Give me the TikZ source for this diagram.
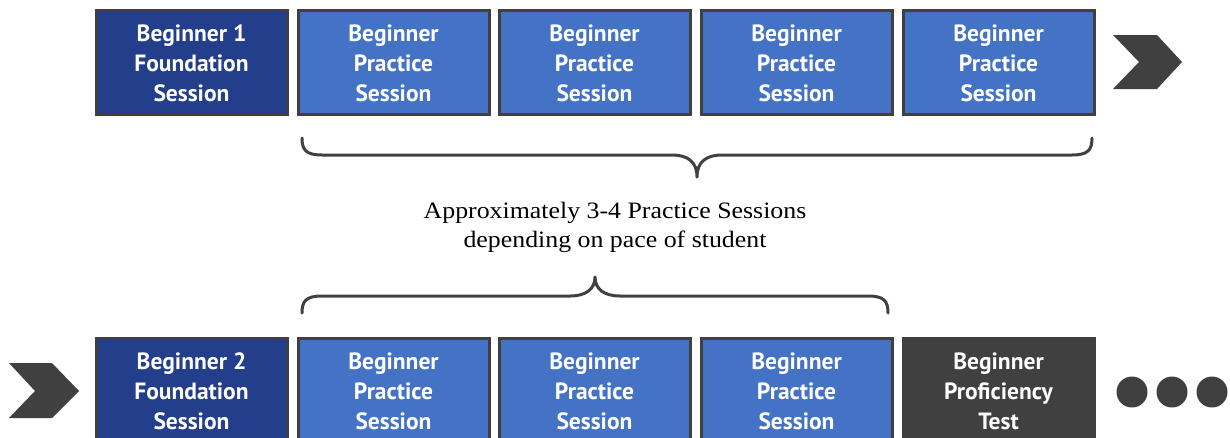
\documentclass[tikz,border=0pt]{standalone}
\usepackage{fontspec}
\setmainfont{Liberation Serif}
\newfontfamily\boxfont{PT Sans}
\usetikzlibrary{calc}
\definecolor{dkblue}{HTML}{233E8B}
\definecolor{ltblue}{HTML}{4472C4}
\definecolor{dkgray}{HTML}{404040}
\newcommand{\wideline}[1]{\scalebox{1.1}[1]{#1}}
\begin{document}
\begin{tikzpicture}[x=1pt,y=-1pt,
  sess/.style={draw=dkgray,line width=3pt,minimum width=191pt,minimum height=104pt,inner sep=0pt},
  found/.style={sess,fill=dkblue},
  prac/.style={sess,fill=ltblue},
  test/.style={sess,fill=dkgray},
  boxtext/.style={text=white,font=\boxfont\bfseries\fontsize{23.5}{30}\selectfont,align=center,inner sep=0pt},
  bracel/.style={draw=dkgray,line width=3pt,line cap=round,line join=round},
  note/.style={font=\fontsize{23.5}{29}\selectfont,align=center,text=black}]
\useasboundingbox (0,0) rectangle (1230,437);
\clip (0,0) rectangle (1230,437);
% top row
\node[found] (a1) at (191.5,62) {};
\node[prac] (a2) at (393.5,62) {};
\node[prac] (a3) at (594.5,62) {};
\node[prac] (a4) at (796.5,62) {};
\node[prac] (a5) at (998.5,62) {};
\foreach \n/\t in {a1/{Beginner 1\\Foundation\\Session},a2/{Beginner\\Practice\\Session},a3/{Beginner\\Practice\\Session},a4/{Beginner\\Practice\\Session},a5/{Beginner\\Practice\\Session}}
  \node[boxtext] (\n t) at ($(\n)+(0,1)$) {\t};
% chevron top
\fill[dkgray] (1113,35) -- (1157,35) -- (1182,62) -- (1157,89) -- (1113,89) -- (1139,62) -- cycle;
% top brace
\coordinate (tb1) at (302,138);
\coordinate (tb2) at (1092,138);
\coordinate (tbt) at (697,177);
\draw[bracel] (tb1) .. controls (302,150) and (306,155) .. (322,155) -- (672,155)
  .. controls (688,155) and (697,162) .. (tbt)
  .. controls (697,162) and (706,155) .. (722,155) -- (1072,155)
  .. controls (1088,155) and (1092,150) .. (tb2);
% text
\node[note] (txt) at (615,227) {\wideline{Approximately 3-4 Practice Sessions}\\\wideline{depending on pace of student}};
% bottom brace
\coordinate (bb1) at (302,313);
\coordinate (bb2) at (888,313);
\coordinate (bbt) at (595,277);
\draw[bracel] (bb1) .. controls (302,301) and (306,296) .. (322,296) -- (570,296)
  .. controls (586,296) and (595,289) .. (bbt)
  .. controls (595,289) and (604,296) .. (620,296) -- (868,296)
  .. controls (884,296) and (888,301) .. (bb2);
% bottom chevron
\fill[dkgray] (9,363) -- (52,363) -- (79,391) -- (52,418) -- (9,418) -- (35,391) -- cycle;
% bottom row
\node[found] (b1) at (191.5,390) {};
\node[prac] (b2) at (393.5,390) {};
\node[prac] (b3) at (594.5,390) {};
\node[prac] (b4) at (796.5,390) {};
\node[test] (b5) at (998.5,390) {};
\foreach \n/\t in {b1/{Beginner 2\\Foundation\\Session},b2/{Beginner\\Practice\\Session},b3/{Beginner\\Practice\\Session},b4/{Beginner\\Practice\\Session},b5/{Beginner\\Proficiency\\Test}}
  \node[boxtext] (\n t) at ($(\n)+(0,1)$) {\t};
% dots
\fill[dkgray] (1132,392) circle (15.5);
\fill[dkgray] (1172,392) circle (15.5);
\fill[dkgray] (1212,392) circle (15.5);
\end{tikzpicture}
\end{document}
